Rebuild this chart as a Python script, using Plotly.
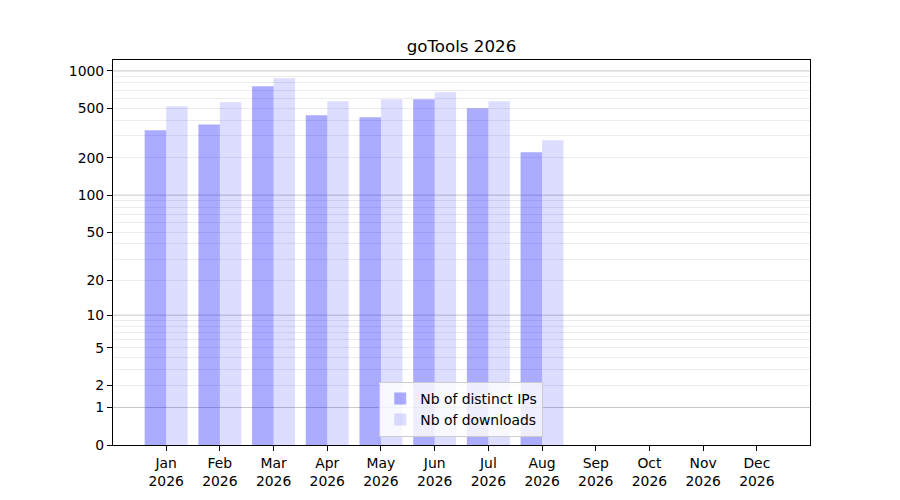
import numpy as np
import plotly.graph_objects as go

months = ["Jan", "Feb", "Mar", "Apr", "May", "Jun", "Jul", "Aug", "Sep", "Oct", "Nov", "Dec"]
year = "2026"
distinct_ips = [334, 372, 752, 440, 424, 591, 501, 222, 0, 0, 0, 0]
downloads = [520, 559, 872, 570, 591, 673, 570, 277, 0, 0, 0, 0]
tick_values = [0, 1, 2, 5, 10, 20, 50, 100, 200, 500, 1000]
major_grid = [1, 10, 100, 1000]
minor_grid = [m * d for d in (1, 10, 100) for m in range(2, 10)]


def tr(v):
    return np.log10(1 + np.asarray(v, dtype=float))


cats = [f"{m}<br>{year}" for m in months]

fig = go.Figure()
fig.add_trace(go.Bar(x=cats, y=tr(distinct_ips), name="Nb of distinct IPs",
                     marker=dict(color="rgba(0,0,255,0.33)", line=dict(width=0)),
                     customdata=distinct_ips, hovertemplate="%{customdata}<extra></extra>"))
fig.add_trace(go.Bar(x=cats, y=tr(downloads), name="Nb of downloads",
                     marker=dict(color="rgba(0,0,255,0.134)", line=dict(width=0)),
                     customdata=downloads, hovertemplate="%{customdata}<extra></extra>"))

ymax = float(tr(max(downloads))) * 1.05

shapes = []
for v in major_grid:
    yv = float(tr(v))
    shapes.append(dict(type="line", xref="paper", x0=0, x1=1, yref="y", y0=yv, y1=yv,
                       line=dict(color="#c8c8c8", width=1), layer="below"))

font = "DejaVu Sans"
# the page adds an 8px body margin, so offsets are reduced by 8px
fig.update_layout(
    width=900, height=500,
    margin=dict(l=105, r=98, t=52, b=63),
    plot_bgcolor="white", paper_bgcolor="white",
    font=dict(family=font, size=13.9, color="black"),
    title=dict(text="goTools 2026", x=0.5, xref="paper", xanchor="center",
               y=1 - 38 / 500, yref="container", yanchor="middle",
               font=dict(family=font, size=16.7, color="black")),
    barmode="group", bargap=0.2, bargroupgap=0,
    shapes=shapes,
    showlegend=True,
    legend=dict(x=0.382, y=0.021, xanchor="left", yanchor="bottom",
                bgcolor="rgba(255,255,255,0.8)", bordercolor="#cccccc", borderwidth=1,
                font=dict(family=font, size=13.9, color="black"),
                traceorder="normal", itemwidth=30),
    xaxis=dict(type="category", range=[-0.99, 11.99], showgrid=False,
               showline=True, mirror=True, linecolor="black", linewidth=1.1,
               ticks="outside", ticklen=5, tickcolor="black", tickwidth=1,
               tickfont=dict(family=font, size=13.9, color="black")),
    yaxis=dict(range=[0, ymax], tickmode="array", tickvals=list(tr(tick_values)),
               ticktext=[str(v) for v in tick_values], showgrid=False, zeroline=False,
               showline=True, mirror=True, linecolor="black", linewidth=1.1,
               ticks="outside", ticklen=5, tickcolor="black", tickwidth=1,
               tickfont=dict(family=font, size=13.9, color="black"),
               minor=dict(tickmode="array", tickvals=list(tr(minor_grid)), showgrid=True,
                          gridcolor="#ececec", gridwidth=1, ticks="")),
)

fig.write_html("out.html")
